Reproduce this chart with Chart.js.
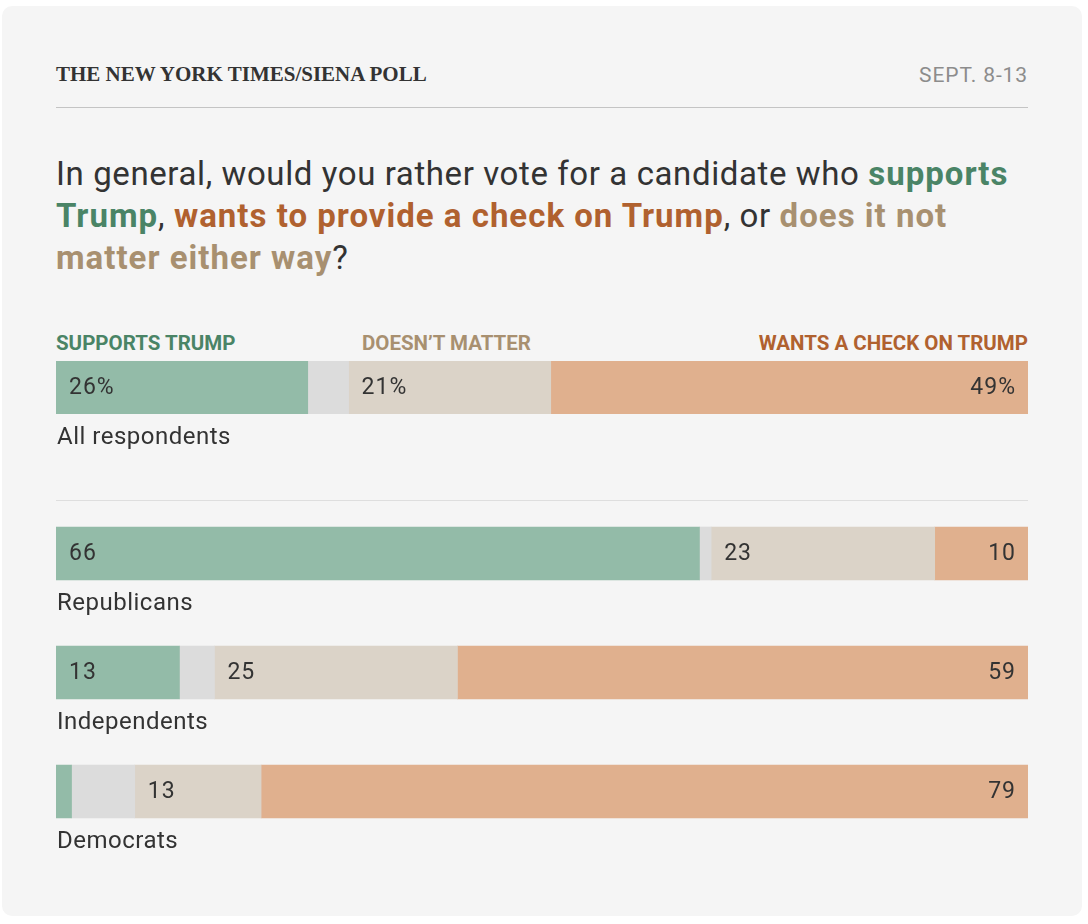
<!DOCTYPE html>
<html>
<head>
<meta charset="utf-8">
<script src="https://cdn.jsdelivr.net/npm/chart.js@4.4.1/dist/chart.umd.min.js"></script>
<style>
  html, body { margin:0; padding:0; background:#ffffff; }
  body { width:1088px; height:924px; position:relative; overflow:hidden; font-family:Roboto, "Liberation Sans", sans-serif; }
  #card { position:absolute; left:2px; top:6px; width:1080px; height:910px; background:#f5f5f5; border-radius:10px; }
  .abs { position:absolute; white-space:nowrap; }
  #src { left:54px; top:56px; font-family:"Liberation Serif","DejaVu Serif",serif; font-weight:bold; font-size:21px; color:#333; letter-spacing:0px; }
  #date { right:54px; top:57px; font-size:21px; color:#8c8c8c; letter-spacing:0.9px; }
  #rule1 { left:54px; top:101px; width:972px; height:1px; background:#c4c4c4; }
  #title { left:54px; top:147px; font-size:33px; line-height:42px; color:#333; letter-spacing:0.6px; }
  #title b { font-weight:700; letter-spacing:1px; }
  .g { color:#4a8466; } .o { color:#b0612f; } .t { color:#a89070; }
  .hdr { top:325px; font-size:20.5px; font-weight:700; letter-spacing:0px; }
  #rule2 { left:54px; top:494px; width:972px; height:1px; background:#dedede; }
  #c1 { position:absolute; left:54px; top:355px; width:972px; height:110px; }
  #c2 { position:absolute; left:54px; top:488px; width:972px; height:380px; }
</style>
</head>
<body>
<div id="card">
  <div id="src" class="abs">THE NEW YORK TIMES/SIENA POLL</div>
  <div id="date" class="abs">SEPT. 8-13</div>
  <div id="rule1" class="abs"></div>
  <div id="title" class="abs">In general, would you rather vote for a candidate who <b class="g">supports</b><br><b class="g">Trump</b>, <b class="o">wants to provide a check on Trump</b>, or <b class="t">does it not</b><br><b class="t">matter either way</b>?</div>
  <div class="abs hdr g" style="left:54px">SUPPORTS TRUMP</div>
  <div class="abs hdr t" style="left:360px">DOESN’T MATTER</div>
  <div class="abs hdr o" style="right:54px">WANTS A CHECK ON TRUMP</div>
  <div id="rule2" class="abs"></div>
  <canvas id="c1"></canvas>
  <canvas id="c2"></canvas>
</div>
<script>
// ---- data (percent of respondents) ----
const categories = ['All respondents', 'Republicans', 'Independents', 'Democrats'];
const supportsTrump = [25.9, 66.2, 12.7, 1.6];
const notSure = [4.2, 1.2, 3.6, 6.5];
const doesntMatter = [20.8, 23.0, 25.0, 13.0];
const wantsCheck = [49.1, 9.6, 58.7, 78.9];
const seriesNames = ['Supports Trump', 'Don’t know', 'Doesn’t matter', 'Wants a check on Trump'];
const seriesColors = ['#93bba8', '#dcdcdc', '#dbd3c8', '#e0b08e'];
const labelAlign = ['left', null, 'left', 'right'];

const LABEL_FONT = '23px Roboto, "Liberation Sans", sans-serif';
const CAT_FONT = '24px Roboto, "Liberation Sans", sans-serif';

const labelPlugin = {
  id: 'segLabels',
  afterDatasetsDraw(chart, args, opts) {
    const ctx = chart.ctx;
    ctx.save();
    ctx.font = LABEL_FONT;
    if ('letterSpacing' in ctx) ctx.letterSpacing = '1px';
    ctx.fillStyle = '#333333';
    ctx.textBaseline = 'middle';
    chart.data.datasets.forEach((ds, di) => {
      const align = labelAlign[di];
      if (!align) return;
      const meta = chart.getDatasetMeta(di);
      meta.data.forEach((el, i) => {
        const left = Math.min(el.x, el.base), right = Math.max(el.x, el.base);
        if (right - left < 30) return;
        const v = Math.round(ds.data[i]);
        const txt = opts.percent ? v + '%' : String(v);
        if (align === 'left') { ctx.textAlign = 'left'; ctx.fillText(txt, left + 13, el.y + 1); }
        else { ctx.textAlign = 'right'; ctx.fillText(txt, right - 12, el.y + 1); }
      });
    });
    // category labels under bars
    const meta0 = chart.getDatasetMeta(0);
    ctx.font = CAT_FONT;
    if ('letterSpacing' in ctx) ctx.letterSpacing = '0.5px';
    ctx.textAlign = 'left';
    ctx.fillStyle = '#333333';
    meta0.data.forEach((el, i) => {
      ctx.fillText(chart.data.labels[i], chart.chartArea.left + 1, el.y + el.height / 2 + 24);
    });
    ctx.restore();
  }
};

function makeChart(id, idx, padTop, padBottom, percent) {
  const sets = [supportsTrump, notSure, doesntMatter, wantsCheck].map((arr, k) => ({
    label: seriesNames[k],
    data: idx.map(i => arr[i]),
    backgroundColor: seriesColors[k],
    borderWidth: 0,
    barThickness: 53,
    categoryPercentage: 1,
    barPercentage: 1
  }));
  return new Chart(document.getElementById(id), {
    type: 'bar',
    data: { labels: idx.map(i => categories[i]), datasets: sets },
    options: {
      indexAxis: 'y',
      responsive: false,
      animation: false,
      devicePixelRatio: window.devicePixelRatio || 1,
      layout: { padding: { top: padTop, bottom: padBottom, left: 0, right: 0 } },
      plugins: { legend: { display: false }, tooltip: { enabled: false }, segLabels: { percent } },
      scales: {
        x: { stacked: true, min: 0, max: 100, display: false },
        y: { stacked: true, display: false }
      }
    },
    plugins: [labelPlugin]
  });
}

function sizeCanvas(id, w, h) {
  const c = document.getElementById(id);
  c.width = w; c.height = h; c.style.width = w + 'px'; c.style.height = h + 'px';
}
sizeCanvas('c1', 972, 110);
sizeCanvas('c2', 972, 380);
makeChart('c1', [0], 0, 57, true);
makeChart('c2', [1, 2, 3], 0, 23, false);
</script>
</body>
</html>
